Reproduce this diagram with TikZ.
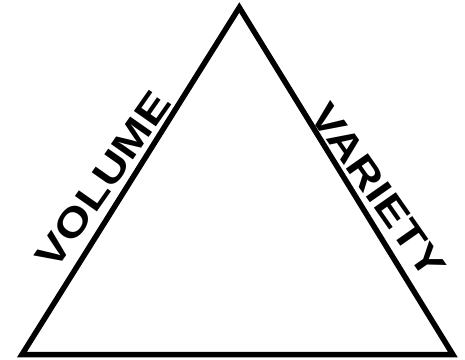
\documentclass[tikz,border=0pt]{standalone}
\usepackage{fontspec}
\setmainfont{Liberation Sans}
\usetikzlibrary{calc}

\tikzset{sidelabel/.style={font=\fontsize{39}{39}\selectfont\bfseries, inner sep=0pt, anchor=base}}

\begin{document}
\begin{tikzpicture}[x=1pt,y=-1pt]
  \useasboundingbox (0,0) rectangle (465,359);
  \coordinate (apex) at (239.3,7.5);
  \coordinate (left) at (22,354.5);
  \coordinate (right) at (452.8,354.5);
  \draw[line width=5.5pt] (apex) -- (right) -- (left) -- cycle;
  % labels along the two slanted sides
  \node[sidelabel,rotate=55,xscale=1.23] (volume)
    at ($(left)!0.466!(apex)+(-8.9,-5.6)$) {VOLUME};
  \node[sidelabel,rotate=-55,xscale=1.22] (variety)
    at ($(apex)!0.564!(right)+(7.4,-4.6)$) {VARIETY};
\end{tikzpicture}
\end{document}
